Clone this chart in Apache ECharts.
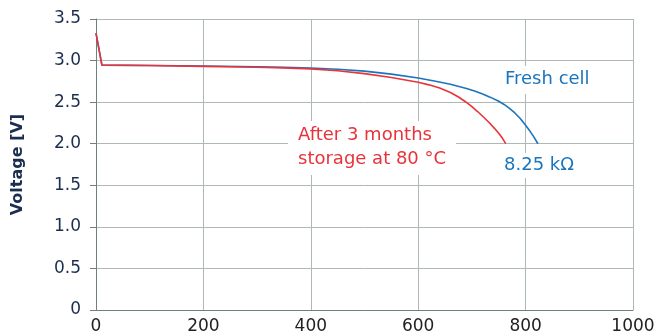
<!DOCTYPE html>
<html>
<head>
<meta charset="utf-8">
<script src="https://cdn.jsdelivr.net/npm/echarts@6/dist/echarts.min.js"></script>
<style>
html,body{margin:0;padding:0;background:#fff;}
#c{width:658px;height:333px;}
</style>
</head>
<body>
<div id="c"></div>
<script>
// Values
var freshX = [0, 11, 100, 200, 300, 350, 400, 450, 500, 550, 600, 630, 660, 690, 705, 720, 735, 750, 760, 770, 780, 790, 800, 808, 815, 823];
var freshV = [3.33, 2.945, 2.94, 2.935, 2.925, 2.918, 2.91, 2.895, 2.873, 2.837, 2.79, 2.755, 2.715, 2.665, 2.633, 2.597, 2.557, 2.51, 2.472, 2.425, 2.37, 2.303, 2.222, 2.152, 2.085, 2.0];
var storedX = [0, 11, 100, 200, 300, 350, 400, 450, 500, 550, 600, 620, 640, 660, 675, 688, 700, 710, 720, 732, 742, 750, 757, 763];
var storedV = [3.33, 2.945, 2.94, 2.93, 2.92, 2.912, 2.9, 2.877, 2.843, 2.797, 2.74, 2.708, 2.67, 2.616, 2.562, 2.505, 2.445, 2.39, 2.33, 2.255, 2.185, 2.125, 2.065, 2.0];
var xTicks = [0, 200, 400, 600, 800, 1000];
var yTicks = [0, 0.5, 1.0, 1.5, 2.0, 2.5, 3.0, 3.5];
var yAxisName = 'Voltage [V]';
var freshLabel = 'Fresh cell';
var storedLabel = 'After 3 months\nstorage at 80 °C';
var loadLabel = '8.25 kΩ';

function pairs(xs, ys){ return xs.map(function(x,i){ return [x, ys[i]]; }); }

var font = '"DejaVu Sans", "Noto Sans", sans-serif';
var gridColor = '#aeb9b6';
var axisColor = '#6f817e';
var textColor = '#1c2e4f';
var blue = '#1a75bc';
var red = '#e8333a';

var chart = echarts.init(document.getElementById('c'));
chart.setOption({
  animation: false,
  grid: {left: 96, right: 25, top: 19, bottom: 23, containLabel: false, outerBoundsMode: 'none'},
  xAxis: {
    type: 'value', min: xTicks[0], max: xTicks[xTicks.length-1], interval: 200,
    axisLine: {show: true, lineStyle: {color: axisColor, width: 1}},
    axisTick: {show: false},
    splitLine: {show: true, lineStyle: {color: gridColor, width: 1}},
    axisLabel: {color: '#222', fontFamily: font, fontSize: 17, margin: 8,
      formatter: function(v){ return String(v); }}
  },
  yAxis: {
    type: 'value', min: yTicks[0], max: yTicks[yTicks.length-1], interval: 0.5,
    name: yAxisName, nameLocation: 'middle', nameGap: 70,
    nameTextStyle: {color: textColor, fontFamily: font, fontSize: 16, fontWeight: 'bold'},
    axisLine: {show: true, lineStyle: {color: axisColor, width: 1}},
    axisTick: {show: true, length: 6, lineStyle: {color: axisColor}},
    splitLine: {show: true, lineStyle: {color: gridColor, width: 1}},
    axisLabel: {color: textColor, fontFamily: font, fontSize: 17, margin: 15,
      formatter: function(v){ return v === 0 ? '0' : v.toFixed(1); }}
  },
  series: [
    {type: 'line', data: pairs(freshX, freshV), smooth: false, symbol: 'none',
     lineStyle: {color: blue, width: 1.6, join: 'round'}, z: 3},
    {type: 'line', data: pairs(storedX, storedV), smooth: false, symbol: 'none',
     lineStyle: {color: red, width: 1.6, join: 'round'}, z: 4}
  ],
  graphic: [
    {type: 'text', left: 499, top: 66, z: 10,
     style: {text: freshLabel, fill: blue, font: '18px ' + font, backgroundColor: '#fff', padding: [4, 6, 6, 6]}},
    {type: 'text', left: 498, top: 153, z: 10,
     style: {text: loadLabel, fill: blue, font: '18px ' + font, backgroundColor: '#fff', padding: [3, 6, 4, 6]}},
    {type: 'text', left: 288, top: 121, z: 10,
     style: {text: storedLabel, fill: red, font: '18px ' + font, lineHeight: 24, backgroundColor: '#fff', padding: [2, 10, 4, 10]}}
  ]
});
</script>
</body>
</html>
